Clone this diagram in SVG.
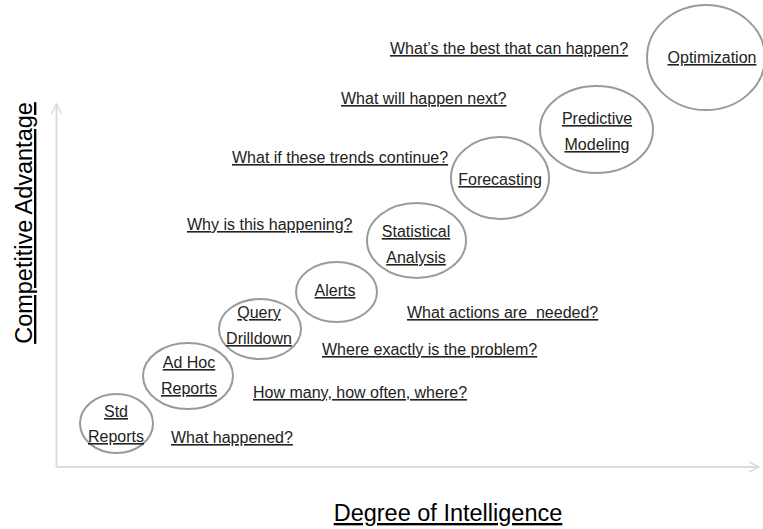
<svg xmlns="http://www.w3.org/2000/svg" width="763" height="529" viewBox="0 0 763 529">
<style>
.ax{stroke:#dcdcdc;stroke-width:2;fill:none}
.node ellipse{fill:none;stroke:#9a9a9a;stroke-width:2}
.nl{font-family:"Liberation Sans",Arial,sans-serif;font-size:16px;fill:#222;text-anchor:middle;text-decoration:underline}
.q{font-family:"Liberation Sans",Arial,sans-serif;font-size:16px;fill:#222;text-decoration:underline;white-space:pre}
.axl{font-family:"Liberation Sans",Arial,sans-serif;font-size:23.5px;fill:#000;text-decoration:underline;text-anchor:middle}
</style>
<defs>
<marker id="arr" viewBox="0 0 12 12" refX="11" refY="6" markerWidth="12" markerHeight="12" markerUnits="userSpaceOnUse" orient="auto">
<path d="M1,1 L11,6 L1,11" fill="none" stroke="#dcdcdc" stroke-width="1.5"/>
</marker>
</defs>
<rect width="763" height="529" fill="#fff"/>
<g id="axes">
<line class="ax" x1="56.5" y1="467" x2="56.5" y2="104" marker-end="url(#arr)"/>
<line class="ax" x1="56.5" y1="467" x2="759" y2="467" marker-end="url(#arr)"/>
</g>
<g id="std" class="node"><ellipse cx="116.5" cy="423.5" rx="36.5" ry="29.5"/><text class="nl" x="116" y="417">Std</text><text class="nl" x="116" y="442">Reports</text></g>
<g id="adhoc" class="node"><ellipse cx="188" cy="376" rx="45" ry="33"/><text class="nl" x="189" y="368">Ad Hoc</text><text class="nl" x="189" y="394">Reports</text></g>
<g id="query" class="node"><ellipse cx="260" cy="329" rx="41" ry="30"/><text class="nl" x="259" y="318">Query</text><text class="nl" x="259" y="344">Drilldown</text></g>
<g id="alerts" class="node"><ellipse cx="336.5" cy="292" rx="40.5" ry="30"/><text class="nl" x="335" y="296">Alerts</text></g>
<g id="stat" class="node"><ellipse cx="416.5" cy="240.5" rx="49.5" ry="37.5"/><text class="nl" x="416" y="237">Statistical</text><text class="nl" x="416" y="263">Analysis</text></g>
<g id="forecast" class="node"><ellipse cx="500" cy="178" rx="49" ry="41"/><text class="nl" x="500" y="185">Forecasting</text></g>
<g id="predict" class="node"><ellipse cx="596.5" cy="129.5" rx="56.5" ry="43.5"/><text class="nl" x="597" y="124">Predictive</text><text class="nl" x="597" y="150">Modeling</text></g>
<g id="optim" class="node"><ellipse cx="706" cy="57.5" rx="59" ry="52.5"/><text class="nl" x="712" y="63">Optimization</text></g>
<g id="questions">
<text class="q" x="390" y="54">What’s the best that can happen?</text>
<text class="q" x="341" y="104">What will happen next?</text>
<text class="q" x="232" y="163">What if these trends continue?</text>
<text class="q" x="187" y="230">Why is this happening?</text>
<text class="q" x="407" y="318">What actions are  needed?</text>
<text class="q" x="322" y="355">Where exactly is the problem?</text>
<text class="q" x="253" y="398">How many, how often, where?</text>
<text class="q" x="171" y="443">What happened?</text>
</g>
<g id="labels">
<text class="axl" x="448" y="521">Degree of Intelligence</text>
<text class="axl" transform="translate(32,223) rotate(-90)">Competitive Advantage</text>
</g>
</svg>
